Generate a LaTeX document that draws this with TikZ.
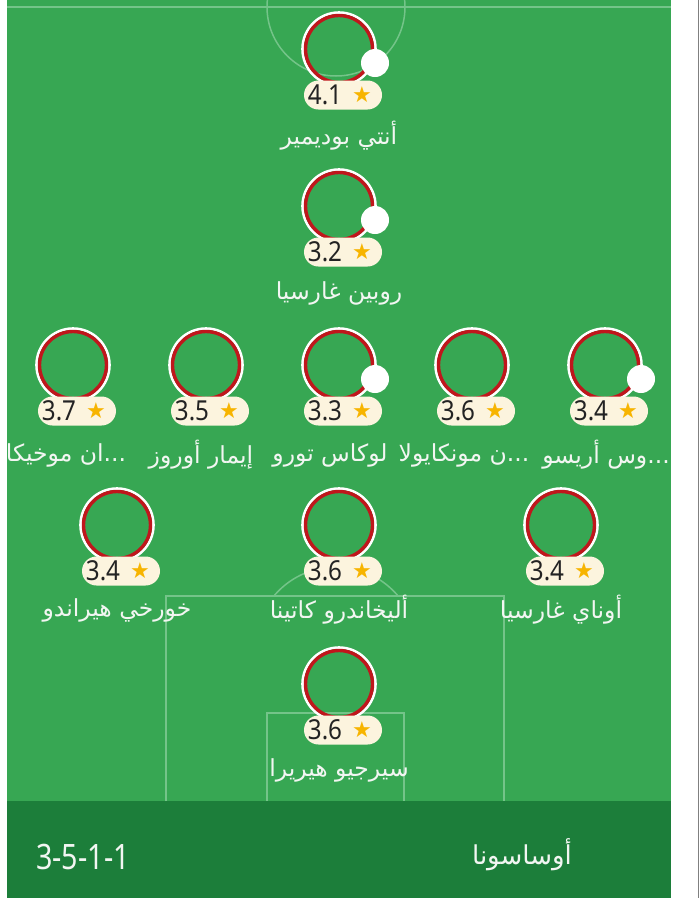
\documentclass[tikz,border=0pt]{standalone}
\usepackage{fontspec}
\setmainfont{Noto Sans}
\newfontfamily\arabicfont[Script=Arabic]{DejaVu Sans}
\newfontfamily\symbfont{DejaVu Sans}
\TeXXeTstate=1
\definecolor{fieldgreen}{HTML}{37A753}
\definecolor{bargreen}{HTML}{1C7E3A}
\definecolor{pitchline}{HTML}{74C489}
\definecolor{ringred}{HTML}{C0161C}
\definecolor{pillfill}{HTML}{FCF4DE}
\definecolor{startone}{HTML}{F7B400}
\definecolor{numtext}{HTML}{232323}
\definecolor{nametext}{HTML}{F2F6F2}
\newcommand\plyr[7]{% id, x, y, rating, name, name dy, name dx
  \begin{scope}[shift={(#2,#3)}]
    \node[ringw] (#1) at (0,0) {};
    \node[ringr] at (0,0) {};
    \node[pill] (#1p) at (4,46) {};
    \node[num] (#1v) at (-14,46) {\scalebox{0.88}[1]{#4}};
    \node[starsym] (#1s) at (23,45.5) {★};
    \node[pname] (#1n) at (#7,#6) {#5};
  \end{scope}}
\newcommand\subdot[1]{\node[subd] at ([shift={(36,14)}]#1.center) {};}
\begin{document}
\begin{tikzpicture}[x=1pt,y=-1pt,
  ringw/.style={circle,draw=white,line width=2.6pt,minimum size=73pt,inner sep=0pt},
  ringr/.style={circle,draw=ringred,line width=3.4pt,minimum size=67pt,inner sep=0pt},
  pill/.style={rounded corners=14.5pt,fill=pillfill,minimum width=78pt,minimum height=29pt,inner sep=0pt},
  num/.style={text=numtext,font=\fontsize{27.5}{29}\selectfont,inner sep=0pt},
  starsym/.style={text=startone,font=\symbfont\fontsize{22}{24}\selectfont,inner sep=0pt},
  pname/.style={text=nametext,font=\arabicfont\fontsize{23.5}{27}\selectfont,inner sep=0pt},
  subd/.style={circle,fill=white,minimum size=28pt,inner sep=0pt},
  pline/.style={draw=pitchline,line width=1.5pt}]
\useasboundingbox (0,0) rectangle (699,898);
\fill[white] (0,0) rectangle (699,898);
\fill[fieldgreen] (7,0) rectangle (671,801);
\fill[bargreen] (7,801) rectangle (671,898);
\draw[gray,line width=1pt] (698.5,0) -- (698.5,898);
% pitch markings
\begin{scope}
  \clip (7,0) rectangle (671,801);
  \draw[pline] (7,7) -- (671,7);
  \draw[pline] (336,7) circle (69);
  \draw[pline] (166,801) -- (166,596) -- (504,596) -- (504,801);
  \draw[pline] (267,801) -- (267,713) -- (404,713) -- (404,801);
  \begin{scope}
    \clip (0,0) rectangle (699,596);
    \draw[pline] (336,648) circle (81);
  \end{scope}
\end{scope}
% players
\plyr{bud}{339}{49}{4.1}{\beginR أنتي بوديمير\endR}{87}{0}
\subdot{bud}
\plyr{rub}{339}{206}{3.2}{\beginR روبين غارسيا\endR}{87}{0}
\subdot{rub}
\plyr{moj}{73}{365}{3.7}{\beginR ...ان موخيكا\endR}{90}{-7}
\plyr{oro}{206}{365}{3.5}{\beginR إيمار أوروز\endR}{90}{-5}
\plyr{tor}{339}{365}{3.3}{\beginR لوكاس تورو\endR}{90}{-9}
\subdot{tor}
\plyr{mon}{472}{365}{3.6}{\beginR ...ن مونكايولا\endR}{90}{-8}
\plyr{are}{605}{365}{3.4}{\beginR ...وس أريسو\endR}{90}{1}
\subdot{are}
\plyr{her}{117}{525}{3.4}{\beginR خورخي هيراندو\endR}{85}{0}
\plyr{cat}{339}{525}{3.6}{\beginR أليخاندرو كاتينا\endR}{85}{0}
\plyr{una}{561}{525}{3.4}{\beginR أوناي غارسيا\endR}{85}{0}
\plyr{ser}{339}{684}{3.6}{\beginR سيرجيو هيريرا\endR}{86}{0}
% bottom bar
\node[text=nametext,font=\fontsize{35}{38}\selectfont,inner sep=0pt] (form) at (83,857) {\scalebox{0.82}[1]{3-5-1-1}};
\node[text=nametext,font=\arabicfont\fontsize{26}{30}\selectfont,inner sep=0pt] (team) at (522,855) {\beginR أوساسونا\endR};
\end{tikzpicture}
\end{document}
